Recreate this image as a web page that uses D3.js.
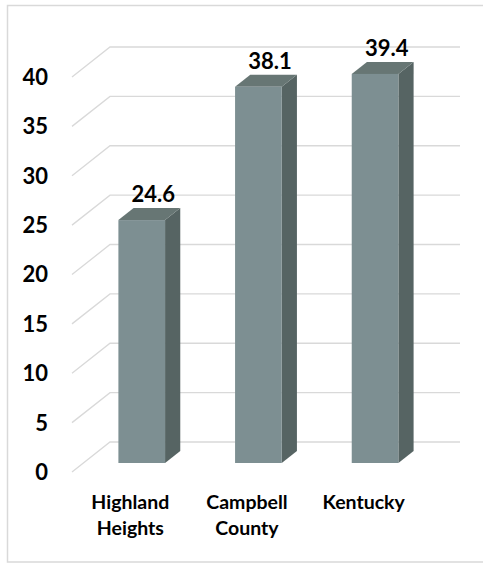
<!DOCTYPE html>
<html>
<head>
<meta charset="utf-8">
<script src="https://cdn.jsdelivr.net/npm/d3@7"></script>
<style>
  html, body { margin: 0; padding: 0; background: #ffffff; }
  svg { display: block; }
  text { font-family: Lato, "Open Sans", sans-serif; font-weight: 700; fill: #000; }
</style>
</head>
<body>
<svg id="chart" width="483" height="564"></svg>
<script>
// Data
const categories = [["Highland", "Heights"], ["Campbell", "County"], ["Kentucky"]];
const values = [24.6, 38.1, 39.4];
const yTicks = [0, 5, 10, 15, 20, 25, 30, 35, 40];

const svg = d3.select("#chart");

// Chart frame
svg.append("rect")
  .attr("x", 7.5).attr("y", 5.5)
  .attr("width", 490).attr("height", 556.5)
  .attr("fill", "none").attr("stroke", "#d9d9d9").attr("stroke-width", 1.5);

// 3D projection: depth offset from front plane to back wall
const depthDX = 38, depthDY = -30;
const frontLeft = 72, frontRight = 422;

const keys = categories.map(c => c.join(" "));
const x = d3.scaleBand().domain(keys).range([frontLeft, frontRight]);
const y = d3.scaleLinear().domain([0, 40]).range([472, 77]);

// Gridlines: diagonal side-wall segment then horizontal along back wall
const grid = svg.append("g").attr("stroke", "#d9d9d9").attr("stroke-width", 1.3).attr("fill", "none");
yTicks.forEach(t => {
  const yf = y(t);
  grid.append("path")
    .attr("d", `M${frontLeft},${yf} L${frontLeft + depthDX},${yf + depthDY} L${frontRight + depthDX},${yf + depthDY}`);
});

// Tick labels
svg.append("g").selectAll("text").data(yTicks).join("text")
  .attr("x", 48).attr("y", d => y(d))
  .attr("dy", "0.36em")
  .attr("text-anchor", "end")
  .attr("font-size", 22)
  .text(d => d);

// Bars: front plane sits 30% into depth, bar depth is 40% of depth
const f0 = 0.3, fd = 0.4;
const barW = x.bandwidth() * 0.4;
const ox = depthDX * f0, oy = depthDY * f0;
const bx = depthDX * fd, by = depthDY * fd;

const colFront = "#7d8f92", colSide = "#566463", colTop = "#677674";

const bars = svg.append("g").selectAll("g").data(values).join("g");
bars.each(function(v, i) {
  const g = d3.select(this);
  const cx = x(keys[i]) + x.bandwidth() / 2 + ox;
  const x0 = cx - barW / 2, x1 = cx + barW / 2;
  const yb = y(0) + oy, yt = y(v) + oy;
  // side face
  g.append("path")
    .attr("d", `M${x1},${yb} L${x1 + bx},${yb + by} L${x1 + bx},${yt + by} L${x1},${yt} Z`)
    .attr("fill", colSide);
  // top face
  g.append("path")
    .attr("d", `M${x0},${yt} L${x1},${yt} L${x1 + bx},${yt + by} L${x0 + bx},${yt + by} Z`)
    .attr("fill", colTop);
  // front face
  g.append("rect")
    .attr("x", x0).attr("y", yt)
    .attr("width", barW).attr("height", yb - yt)
    .attr("fill", colFront);
  // value label
  g.append("text")
    .attr("x", cx + bx / 2 + 4)
    .attr("y", yt + by - 6)
    .attr("text-anchor", "middle")
    .attr("font-size", 22)
    .text(v.toFixed(1));
});

// Category labels
const cat = svg.append("g").selectAll("text").data(categories).join("text")
  .attr("text-anchor", "middle")
  .attr("font-size", 19.5)
  .attr("transform", (d, i) => `translate(${x(keys[i]) + x.bandwidth() / 2},509)`);
cat.selectAll("tspan").data(d => d).join("tspan")
  .attr("x", 0)
  .attr("dy", (d, j) => j === 0 ? 0 : 26)
  .text(d => d);
</script>
</body>
</html>
